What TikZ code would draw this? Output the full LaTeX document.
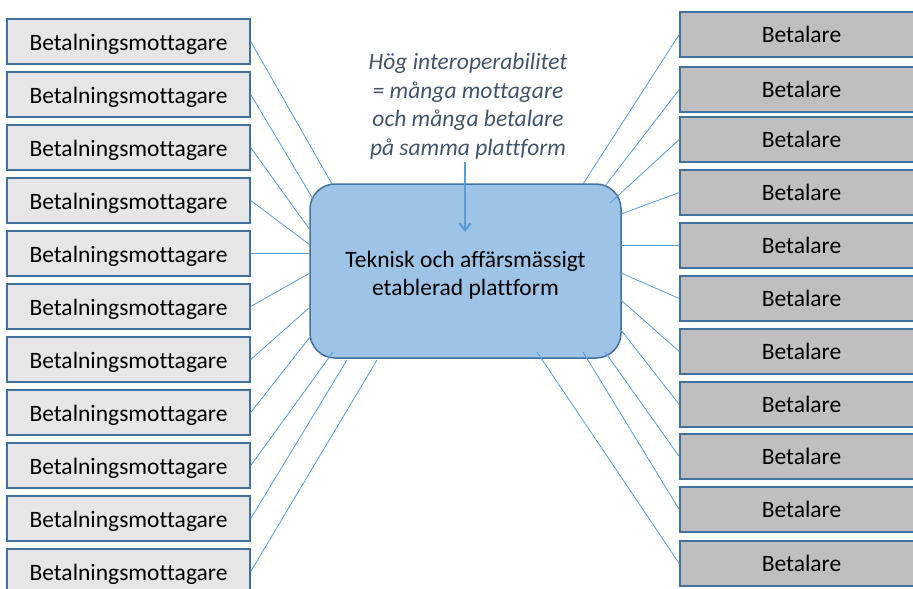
\documentclass[tikz,border=0pt]{standalone}
\usepackage{fontspec}
\setmainfont{Carlito}[Ligatures=NoCommon]
\usetikzlibrary{arrows.meta}
\definecolor{kant}{HTML}{41719C}
\definecolor{ljusgra}{HTML}{E7E6E6}
\definecolor{gra}{HTML}{BFBFBF}
\definecolor{plattbla}{HTML}{9DC3E6}
\definecolor{linjebla}{HTML}{5B9BD5}
\definecolor{notgra}{HTML}{44546A}

\begin{document}
\begin{tikzpicture}[x=1pt, y=-1pt,
    mottagare/.style={draw=kant, fill=ljusgra, line width=1.5pt, minimum width=243pt, minimum height=45pt, inner sep=0pt, text height=17pt, text depth=0pt, font=\fontsize{23.5}{28}\selectfont},
    betalare/.style={mottagare, fill=gra, text height=16pt},
    linje/.style={draw=linjebla, line width=0.8pt},
    pil/.style={draw=linjebla, line width=2pt, -{Straight Barb[length=7pt, width=11pt]}}]
\useasboundingbox (0,0) rectangle (913,589);
\node[draw=kant, fill=plattbla, rounded corners=25pt, line width=1.5pt, minimum width=311pt, minimum height=174pt, align=center, font=\fontsize{23.5}{28}\selectfont] (plattform) at (465.5,271) {\rule{0pt}{24pt}Teknisk och affärsmässigt\\etablerad plattform};
\node[align=center, inner sep=3pt, text=notgra, font=\fontsize{23.5}{28.5}\selectfont\itshape] (note) at (468,106) {Hög interoperabilitet\\= många mottagare\\och många betalare\\på samma plattform};
\coordinate (pilspets) at (465,232);
\draw[pil] (note.south -| pilspets) -- (pilspets);

% mottagare till vanster, betalare till hoger
\foreach \i in {1,...,11}
    \node[mottagare] (m\i) at (128.5, {41.5+53*(\i-1)}) {Betalningsmottagare};
\foreach \i/\y in {1/34.5, 2/89.5, 3/139.5, 4/192.5, 5/245.5, 6/298.5, 7/351.5, 8/404.5, 9/456.5, 10/509.5, 11/563.5}
    \node[betalare] (b\i) at (801.5,\y) {Betalare};

\foreach \i/\x/\y in {1/332/184, 2/313/199, 3/310/230, 4/310/245, 5/310/253.5, 6/310/273, 7/310/307, 8/310/337, 9/333/352, 10/347/360, 11/377/360}{
    \coordinate (v\i) at (\x,\y);
    \draw[linje] (m\i.east) -- (v\i);
}
\foreach \i/\x/\y in {1/583/184, 2/605/186, 3/610/203, 4/621/214, 5/621/245.5, 6/621/273, 7/621/300, 8/621/330, 9/605/352, 10/583/352, 11/537/352}{
    \coordinate (h\i) at (\x,\y);
    \draw[linje] (b\i.west) -- (h\i);
}

\end{tikzpicture}
\end{document}
